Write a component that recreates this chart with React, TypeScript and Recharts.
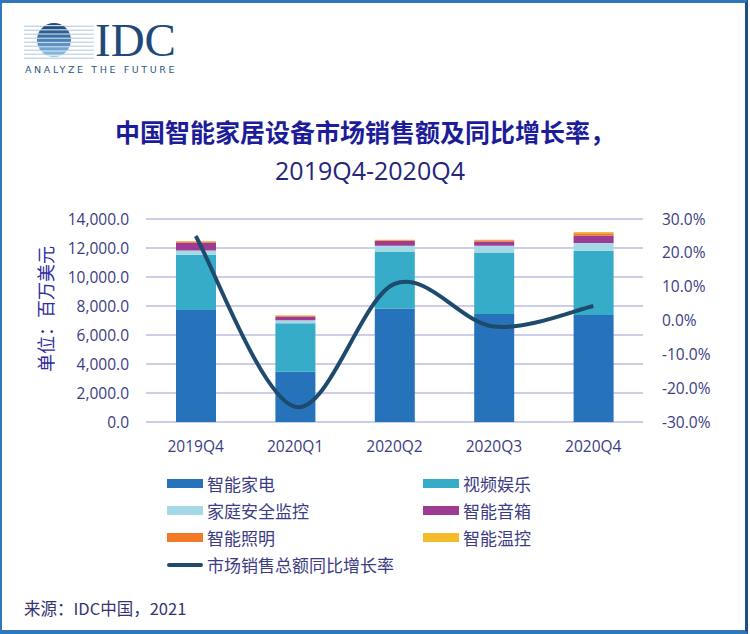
import React from 'react';
import { ComposedChart, Bar, Line, XAxis, YAxis, CartesianGrid, Legend } from 'recharts';

const categories = ['2019Q4', '2020Q1', '2020Q2', '2020Q3', '2020Q4'];
const appliances = [7730, 3460, 7820, 7450, 7380];
const video = [3800, 3350, 3940, 4240, 4430];
const security = [300, 210, 390, 460, 530];
const speakers = [550, 250, 325, 300, 530];
const lighting = [70, 60, 60, 80, 150];
const thermostat = [30, 30, 30, 40, 80];
const growth = [25.0, -25.5, 10.8, -1.8, 4.3];

const leftTicks = [0, 2000, 4000, 6000, 8000, 10000, 12000, 14000];
const rightTicks = [-30, -20, -10, 0, 10, 20, 30];

const seriesNames = ['智能家电', '视频娱乐', '家庭安全监控', '智能音箱', '智能照明', '智能温控'];
const lineName = '市场销售总额同比增长率';
const colors = ['#2773bb', '#36acc8', '#a6d9e6', '#9c3b91', '#f27a26', '#f5bb2a'];
const lineColor = '#1e4a6e';

const data = categories.map((c, i) => ({
  cat: c,
  s0: appliances[i],
  s1: video[i],
  s2: security[i],
  s3: speakers[i],
  s4: lighting[i],
  s5: thermostat[i],
  g: growth[i],
}));

const FONT = "'Open Sans', 'Noto Sans CJK SC', sans-serif";
const TEXT = '#3c3c84';

// Excel-like smoothing (uniform Catmull-Rom as cubic Bezier)
const smoothCurve: any = (context: any) => {
  let pts: number[][] = [];
  return {
    areaStart() {},
    areaEnd() {},
    lineStart() {
      pts = [];
    },
    point(x: number, y: number) {
      pts.push([+x, +y]);
    },
    lineEnd() {
      if (!pts.length) return;
      context.moveTo(pts[0][0], pts[0][1]);
      for (let i = 0; i < pts.length - 1; i++) {
        const p0 = pts[i - 1] || pts[i];
        const p1 = pts[i];
        const p2 = pts[i + 1];
        const p3 = pts[i + 2] || pts[i + 1];
        context.bezierCurveTo(
          p1[0] + (p2[0] - p0[0]) / 6,
          p1[1] + (p2[1] - p0[1]) / 6,
          p2[0] - (p3[0] - p1[0]) / 6,
          p2[1] - (p3[1] - p1[1]) / 6,
          p2[0],
          p2[1]
        );
      }
    },
  };
};

const legendLayout = [
  { name: seriesNames[0], color: colors[0], col: 0, row: 0 },
  { name: seriesNames[1], color: colors[1], col: 1, row: 0 },
  { name: seriesNames[2], color: colors[2], col: 0, row: 1 },
  { name: seriesNames[3], color: colors[3], col: 1, row: 1 },
  { name: seriesNames[4], color: colors[4], col: 0, row: 2 },
  { name: seriesNames[5], color: colors[5], col: 1, row: 2 },
];

const renderLegend = () => (
  <div style={{ position: 'relative', width: 420, height: 110, fontFamily: FONT }}>
    {legendLayout.map((it) => (
      <div
        key={it.name}
        style={{
          position: 'absolute',
          left: it.col * 256,
          top: it.row * 27,
          height: 27,
          display: 'flex',
          alignItems: 'center',
        }}
      >
        <div style={{ width: 36, height: 9, background: it.color, marginRight: 4 }} />
        <span style={{ fontSize: 17, color: TEXT, whiteSpace: 'nowrap' }}>{it.name}</span>
      </div>
    ))}
    <div
      style={{
        position: 'absolute',
        left: 0,
        top: 81,
        height: 27,
        display: 'flex',
        alignItems: 'center',
      }}
    >
      <div style={{ width: 36, height: 4, borderRadius: 2, background: lineColor, marginRight: 4 }} />
      <span style={{ fontSize: 17, color: TEXT, whiteSpace: 'nowrap' }}>{lineName}</span>
    </div>
  </div>
);

const Logo = () => {
  const stripes = [0, 1, 2, 3, 4, 5, 6, 7, 8];
  const stripeColors = ['#1f4e79', '#244f7e', '#2d5f92', '#3a70a4', '#4a82b5', '#5b93c4', '#6ea4d1', '#84b5dc', '#9cc6e6'];
  return (
    <svg width={190} height={80} style={{ position: 'absolute', left: 0, top: 0 }}>
      <defs>
        <clipPath id="logoCircle">
          <circle cx={54} cy={40} r={17} />
        </clipPath>
      </defs>
      {stripes.map((i) => (
        <line key={'l' + i} x1={24} x2={94} y1={25 + i * 4 + 1.2} y2={25 + i * 4 + 1.2} stroke="#a9bfd6" strokeWidth={0.9} />
      ))}
      <g clipPath="url(#logoCircle)">
        {stripes.map((i) => (
          <rect key={'r' + i} x={30} y={22 + i * 4.2} width={50} height={3.1} fill={stripeColors[i]} />
        ))}
      </g>
      <text x={95} y={56} fontFamily="'Liberation Serif', 'DejaVu Serif', serif" fontSize={47} fill="#1f4a78">
        IDC
      </text>
      <text x={25} y={73} fontFamily="'DejaVu Sans', sans-serif" fontSize={9.5} letterSpacing={2.6} fill="#2a5a85">
        ANALYZE THE FUTURE
      </text>
    </svg>
  );
};

export default function App() {
  return (
    <div
      style={{
        position: 'absolute',
        left: 0,
        top: 0,
        width: 750,
        height: 634,
        background: '#ffffff',
        overflow: 'hidden',
        fontFamily: FONT,
      }}
    >
      <Logo />
      <div
        style={{
          position: 'absolute',
          left: 0,
          width: 730,
          top: 113,
          textAlign: 'center',
          fontSize: 25,
          fontWeight: 700,
          color: '#1d1d9a',
          fontFamily: "'Noto Sans CJK SC', sans-serif",
          lineHeight: '36px',
        }}
      >
        中国智能家居设备市场销售额及同比增长率，
      </div>
      <div
        style={{
          position: 'absolute',
          left: 0,
          width: 740,
          top: 152,
          textAlign: 'center',
          fontSize: 25,
          color: '#25257a',
          fontFamily: FONT,
          lineHeight: '36px',
        }}
      >
        2019Q4-2020Q4
      </div>
      <div
        style={{
          position: 'absolute',
          left: 45,
          top: 309,
          transform: 'translate(-50%, -50%) rotate(-90deg)',
          fontSize: 18,
          color: '#2d2d9b',
          whiteSpace: 'nowrap',
          fontFamily: "'Noto Sans CJK SC', sans-serif",
        }}
      >
        单位：百万美元
      </div>
      <ComposedChart
        width={750}
        height={634}
        data={data}
        margin={{ top: 219, right: 0, bottom: 182, left: 0 }}
        style={{ position: 'absolute', left: 0, top: 0 }}
      >
        <CartesianGrid yAxisId="left" vertical={false} stroke="#bdbde0" strokeWidth={1.5} />
        <XAxis
          dataKey="cat"
          height={30}
          axisLine={false}
          tickLine={false}
          tickMargin={13}
          tick={{ fontSize: 15.5, fill: TEXT, fontFamily: FONT }}
        />
        <YAxis
          yAxisId="left"
          orientation="left"
          width={146}
          domain={[0, 14000]}
          ticks={leftTicks}
          axisLine={false}
          tickLine={false}
          tickMargin={11}
          tick={{ fontSize: 15.5, fill: TEXT, fontFamily: FONT }}
          tickFormatter={(v: number) => v.toLocaleString('en-US', { minimumFractionDigits: 1, maximumFractionDigits: 1 })}
        />
        <YAxis
          yAxisId="right"
          orientation="right"
          width={107}
          domain={[-30, 30]}
          ticks={rightTicks}
          axisLine={false}
          tickLine={false}
          tickMargin={13}
          tick={{ fontSize: 15.5, fill: TEXT, fontFamily: FONT }}
          tickFormatter={(v: number) => v.toFixed(1) + '%'}
        />
        {seriesNames.map((n, i) => (
          <Bar
            key={n}
            yAxisId="left"
            dataKey={'s' + i}
            name={n}
            stackId="a"
            fill={colors[i]}
            barSize={40}
            isAnimationActive={false}
          />
        ))}
        <Line
          yAxisId="right"
          dataKey="g"
          name={lineName}
          type={smoothCurve}
          stroke={lineColor}
          strokeWidth={4}
          dot={false}
          activeDot={false}
          isAnimationActive={false}
        />
        <Legend
          layout="horizontal"
          verticalAlign="middle"
          align="center"
          content={renderLegend}
          wrapperStyle={{ left: 167, top: 470, width: 430, height: 110 }}
        />
      </ComposedChart>
      <div
        style={{
          position: 'absolute',
          left: 24,
          top: 596,
          fontSize: 16.5,
          color: '#333372',
          fontFamily: "'Noto Sans CJK SC', sans-serif",
          whiteSpace: 'nowrap',
        }}
      >
        来源：IDC中国，2021
      </div>
      <div
        style={{
          position: 'absolute',
          left: 0,
          top: 0,
          width: 748,
          height: 634,
          boxSizing: 'border-box',
          borderTop: '3px solid #2f76bb',
          borderLeft: '2px solid #2f76bb',
          borderBottom: '4px solid #2f76bb',
          borderRight: '3px solid #1f4f80',
          pointerEvents: 'none',
        }}
      />
    </div>
  );
}
